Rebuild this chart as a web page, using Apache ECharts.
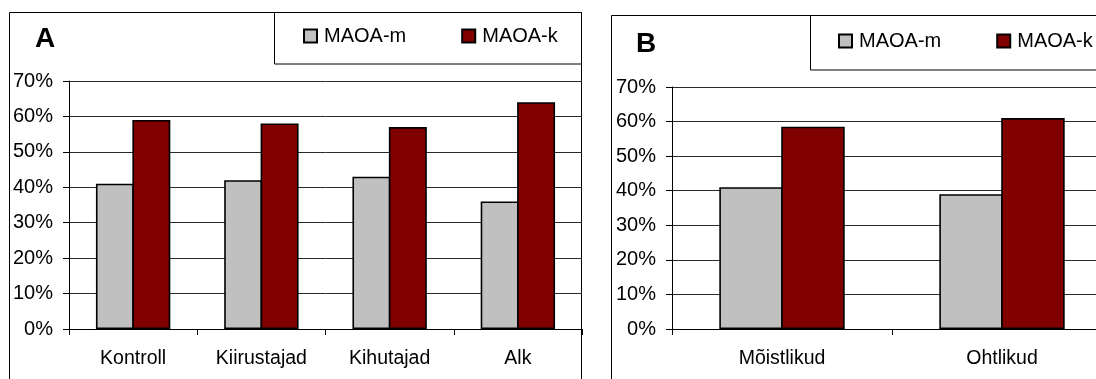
<!DOCTYPE html>
<html>
<head>
<meta charset="utf-8">
<script src="https://cdn.jsdelivr.net/npm/echarts@6/dist/echarts.min.js"></script>
<style>
  html, body { margin: 0; padding: 0; background: #fff; overflow: hidden; }
  #chart { width: 1120px; height: 379px; }
</style>
</head>
<body>
<div id="chart"></div>
<script>
// Panel A: MAOA allele shares by driver group
const categoriesA = ['Kontroll', 'Kiirustajad', 'Kihutajad', 'Alk'];
const maoaM_A = [41, 42, 43, 36];
const maoaK_A = [59, 58, 57, 64];

// Panel B: moderate vs risky drivers
const categoriesB = ['Mõistlikud', 'Ohtlikud'];
const maoaM_B = [41, 39];
const maoaK_B = [58.5, 61];

const seriesNames = ['MAOA-m', 'MAOA-k'];
const yTicks = { min: 0, max: 70, interval: 10 };

const FONT = '"Liberation Sans", Arial, sans-serif';
const GRAY = '#C0C0C0';
const DARKRED = '#800000';

const chart = echarts.init(document.getElementById('chart'), null, { renderer: 'canvas' });

function xAxisFor(gridIndex, cats) {
  return {
    type: 'category',
    gridIndex: gridIndex,
    data: cats,
    axisLine: { show: true, lineStyle: { color: '#000', width: 1 } },
    axisTick: { show: true, length: 6, lineStyle: { color: '#000' } },
    axisLabel: { color: '#000', fontFamily: FONT, fontSize: 19.5, margin: 20 },
    splitLine: { show: false }
  };
}

function yAxisFor(gridIndex) {
  return {
    type: 'value',
    gridIndex: gridIndex,
    min: yTicks.min,
    max: yTicks.max,
    interval: yTicks.interval,
    axisLine: { show: true, lineStyle: { color: '#000', width: 1 } },
    axisTick: { show: true, length: 6, lineStyle: { color: '#000' } },
    axisLabel: { color: '#000', fontFamily: FONT, fontSize: 20, margin: 16, formatter: '{value}%' },
    splitLine: { show: true, lineStyle: { color: '#2a2a2a', width: 1 } }
  };
}

// adjacent bars share one outline, so they overlap by the stroke width
function barSeries(name, data, color, axisIndex, gap, overlap) {
  return {
    name: name,
    type: 'bar',
    xAxisIndex: axisIndex,
    yAxisIndex: axisIndex,
    data: data,
    barGap: overlap,
    barCategoryGap: gap,
    itemStyle: { color: color, borderColor: '#000', borderWidth: 1.6 },
    emphasis: { disabled: true },
    animation: false
  };
}

function legendFor(left, top) {
  return {
    data: seriesNames,
    left: left,
    top: top,
    padding: 0,
    icon: 'rect',
    itemWidth: 13,
    itemHeight: 13,
    itemGap: 55,
    selectedMode: false,
    textStyle: { color: '#000', fontFamily: FONT, fontSize: 20, padding: [0, 0, 0, 2] }
  };
}

const option = {
  backgroundColor: '#fff',
  animation: false,
  grid: [
    { left: 69, top: 81, width: 513, height: 248 },
    { left: 672, top: 87, width: 440, height: 242 }
  ],
  xAxis: [xAxisFor(0, categoriesA), xAxisFor(1, categoriesB)],
  yAxis: [yAxisFor(0), yAxisFor(1)],
  legend: [legendFor(303, 26), legendFor(838, 31)],
  series: [
    barSeries(seriesNames[0], maoaM_A, GRAY, 0, '42%', '-4%'),
    barSeries(seriesNames[1], maoaK_A, DARKRED, 0, '42%', '-4%'),
    barSeries(seriesNames[0], maoaM_B, GRAY, 1, '43%', '-2.5%'),
    barSeries(seriesNames[1], maoaK_B, DARKRED, 1, '43%', '-2.5%')
  ],
  graphic: [
    // outer frames of the two panels
    { type: 'rect', z: -1, shape: { x: 9.5, y: 12.5, width: 572, height: 420 },
      style: { fill: 'none', stroke: '#000', lineWidth: 1 }, silent: true },
    { type: 'rect', z: -1, shape: { x: 611.5, y: 15.5, width: 560, height: 420 },
      style: { fill: 'none', stroke: '#000', lineWidth: 1 }, silent: true },
    // legend boxes
    { type: 'rect', z: -1, shape: { x: 274.5, y: 12.5, width: 307, height: 51.5 },
      style: { fill: 'none', stroke: '#000', lineWidth: 1 }, silent: true },
    { type: 'rect', z: -1, shape: { x: 810.5, y: 15.5, width: 360, height: 54.5 },
      style: { fill: 'none', stroke: '#000', lineWidth: 1 }, silent: true },
    // panel letters
    { type: 'text', left: 35, top: 25, silent: true,
      style: { text: 'A', fill: '#000', font: 'bold 28px ' + FONT } },
    { type: 'text', left: 636, top: 30, silent: true,
      style: { text: 'B', fill: '#000', font: 'bold 28px ' + FONT } }
  ]
};

chart.setOption(option);
</script>
</body>
</html>
